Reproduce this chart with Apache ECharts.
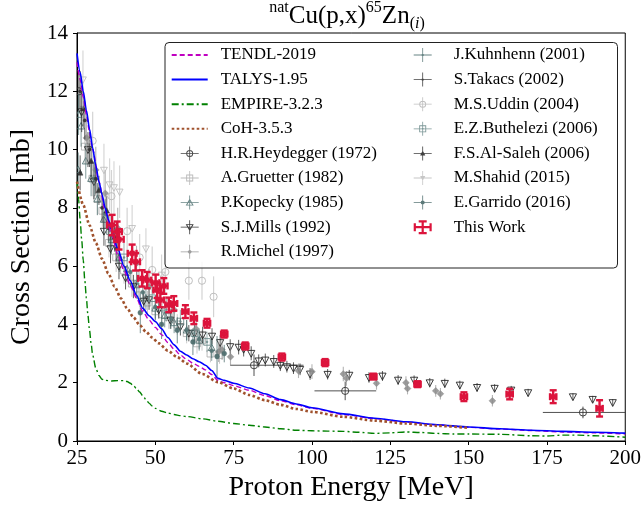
<!DOCTYPE html>
<html><head><meta charset="utf-8">
<script src="https://cdn.jsdelivr.net/npm/echarts@6/dist/echarts.min.js"></script>
<style>html,body{margin:0;padding:0;background:#fff}#c{width:644px;height:510px}</style>
</head><body><div id="c"></div>
<script>
// ---------- model curves ----------
var TALYS_E = [25,26,27,28,29,30,31,32,33,34,35,36,38,40,42,44,46,48,50,52,54,56,58,60,62,64,66,68,70,72,75,80,85,90,95,100,110,120,130,140,150,160,170,180,190,200];
var TALYS_Y = [13.3,12.65,12.0,11.35,10.7,10.05,9.45,8.9,8.45,8.0,7.6,7.25,6.6,6.0,5.5,5.0,4.55,4.3,4.1,3.85,3.55,3.3,3.08,2.95,2.82,2.72,2.6,2.42,2.15,2.08,1.98,1.82,1.62,1.42,1.27,1.14,0.93,0.78,0.66,0.56,0.48,0.42,0.37,0.33,0.3,0.27];
var TENDL_E = [25,26,27,28,29,30,32,34,36,38,40,42,44,46,48,50,52,54,56,58,60,62,64,66,68,70,72,75,80,85,90,95,100,110,120,130,140,150,160,170,180,190,200];
var TENDL_Y = [13.0,12.4,11.8,11.2,10.6,10.0,8.9,7.9,7.1,6.4,5.85,5.35,4.9,4.45,4.15,3.9,3.65,3.38,3.15,2.95,2.8,2.67,2.56,2.44,2.28,2.08,2.0,1.9,1.74,1.56,1.38,1.24,1.12,0.91,0.77,0.65,0.55,0.47,0.41,0.36,0.31,0.28,0.24];
var EMPIRE_E = [25,25.5,26,26.5,27,27.5,28,28.5,29,29.5,30,31,32,33,34,36,38,40,41,42,43,44,45,46,47,48,49,50,52,54,56,58,60,65,70,75,80,85,90,95,100,105,110,115,120,125,130,135,140,145,150,160,170,175,180,185,190,200];
var EMPIRE_Y = [8.9,8.3,7.6,6.9,6.2,5.5,4.9,4.3,3.8,3.35,2.95,2.5,2.25,2.12,2.08,2.06,2.07,2.07,2.04,1.98,1.9,1.8,1.68,1.55,1.42,1.3,1.2,1.12,1.02,0.96,0.91,0.87,0.84,0.76,0.68,0.6,0.54,0.48,0.42,0.37,0.35,0.34,0.33,0.3,0.26,0.28,0.31,0.29,0.26,0.24,0.24,0.23,0.18,0.17,0.2,0.2,0.18,0.13];
var COH_E = [25,27,29,31,33,35,37,39,41,43,45,47,49,51,54,57,60,65,70,75,80,85,90,95,100,110,120,130,140,150];
var COH_Y = [8.9,8.1,7.4,6.8,6.25,5.75,5.3,4.9,4.55,4.25,3.98,3.75,3.55,3.36,3.1,2.88,2.66,2.3,2.02,1.8,1.58,1.4,1.24,1.1,1.0,0.83,0.7,0.6,0.52,0.45];

// ---------- experimental data: [E, sigma, dE_low, dE_high, dSigma] ----------
var HEYDEGGER = [[25.6,12.0,0,0,0.6],[81.5,2.6,7.6,15.8,0.37],[110.6,1.72,9.8,9.9,0.32],[186.5,0.98,12.8,13.5,0.2]];
var GRUETTER = [[27.5,10.1,0,0,0.6],[29.9,9.0,0,0,0.6],[31.5,8.3,0,0,0.55],[33.1,7.9,0,0,0.55],[35.2,6.8,0,0,0.5],[37.5,6.3,0,0,0.5],[40,5.85,0,0,0.45],[42.5,5.4,0,0,0.45],[45,5.0,0,0,0.4],[47.5,4.75,0,0,0.4],[50,4.45,0,0,0.4],[52.2,4.35,0,0,0.4],[54.3,4.25,0,0,0.4],[57,4.0,0,0,0.35],[60,3.7,0,0,0.35],[63.3,3.35,0,0,0.35],[64.9,3.45,0,0,0.35],[67.6,3.0,0,0,0.3],[70.5,2.95,0,0,0.3]];
var KOPECKY = [[25.5,11.2,0,0,0.7],[26.3,10.8,0,0,0.7],[25.4,9.3,0,0,0.6],[27.8,9.6,0,0,0.6],[29.5,9.0,0,0,0.6],[31.5,8.3,0,0,0.55],[33.5,7.6,0,0,0.5],[36,6.9,0,0,0.5],[38.5,6.3,0,0,0.5],[41,5.9,0,0,0.45],[44,5.35,0,0,0.45],[47,4.9,0,0,0.4],[50,4.55,0,0,0.4],[53,4.3,0,0,0.4],[56,4.05,0,0,0.35],[60,3.8,0,0,0.35],[64,3.45,0,0,0.35],[68,3.2,0,0,0.35]];
var MILLS = [[26.5,11.3,0,0,0.7],[28.5,10.0,0,0,0.6],[30.4,8.9,0,0,0.6],[33.6,7.2,0,0,0.5],[35.7,6.6,0,0,0.5],[38.4,6.0,0,0,0.45],[40.5,5.6,0,0,0.4],[43,5.3,0,0,0.4],[46.3,4.8,0,0,0.35],[48,4.85,0,0,0.35],[51.1,4.5,0,0,0.3],[54.8,4.15,0,0,0.3],[58,3.92,0,0,0.3],[60.7,3.7,0,0,0.28],[62.5,3.69,0,0,0.28],[65.1,3.64,0,0,0.28],[68.1,3.6,0,0,0.27],[70.7,3.38,0,0,0.26],[73.9,3.24,0,0,0.25],[76.6,3.22,0,0,0.25],[78.2,3.15,0,0,0.25],[80.6,3.01,0,0,0.24],[83,2.75,0,0,0.22],[85.1,2.78,0,0,0.22],[87.8,2.73,0,0,0.22],[89.9,2.6,0,0,0.2],[92,2.55,0,0,0.2],[94.1,2.5,0,0,0.2],[96.2,2.46,0,0,0.2],[99.4,2.3,0,0,0.2],[105,2.29,0,0,0.18],[111.9,2.26,0,0,0.18],[118.2,2.18,0,0,0.18],[122.5,2.23,0,0,0.17],[127.5,2.09,0,0,0.17],[132.6,2.09,0,0,0.16],[137.6,2.0,0,0,0.16],[142.4,1.98,0,0,0.16],[147.2,1.92,0,0,0.15],[152.7,1.84,0,0,0.15],[158.3,1.81,0,0,0.14],[163.6,1.75,0,0,0.14],[169,1.66,0,0,0.13],[183.3,1.52,0,0,0.12],[189.6,1.43,0,0,0.12],[196,1.32,0,0,0.12]];
var MICHEL = [[28,10.4,0,0,0.9],[31,9.3,0,0,0.8],[34,8.5,0,0,0.8],[38,7.3,0,0,0.7],[44,6.1,0,0,0.6],[48,5.3,0,0,0.6],[56,4.5,0,0,0.5],[63,3.85,0,0,0.45],[70.2,3.06,0,0,0.35],[71.3,3.13,0,0,0.35],[74,2.89,0,0,0.3],[95.7,2.41,0,0,0.25],[100,2.38,0,0,0.25],[110,2.3,0,0,0.25],[111,2.15,0,0,0.25],[120.6,1.98,0,0,0.22],[130,2.0,0,0,0.22],[130.5,1.8,0,0,0.2],[139.5,1.72,0,0,0.2],[141,1.62,0,0,0.2],[157.6,1.38,0,0,0.2]];
var KUHNHENN = [[30.5,9.0,0,0,0.6],[34,7.8,0,0,0.5],[38,6.6,0,0,0.5],[42,5.8,0,0,0.45],[46,5.1,0,0,0.4],[50,4.6,0,0,0.4],[55,4.2,0,0,0.35],[60,3.8,0,0,0.35],[64,3.5,0,0,0.35],[68,3.1,0,0,0.35]];
var TAKACS = [[26,12.0,0,0,0.7],[27.5,11.0,0,0,0.65],[29,10.0,0,0,0.6],[31,9.0,0,0,0.55],[33,8.0,0,0,0.5],[35,7.3,0,0,0.45],[37.5,6.6,0,0,0.45]];
var UDDIN = [[30,10.3,0,0,1.0],[36,8.4,0,0,0.9],[41,7.2,0,0,0.8],[45,6.3,0,0,0.8],[49,5.87,0,0,0.8],[53.2,5.8,0,0,0.75],[60.7,5.5,0,0,0.65],[64.9,5.5,0,0,0.65],[68.6,4.95,0,0,0.7]];
var BUTHELEZI = [[35.5,7.2,0,0,0.6],[40,6.3,0,0,0.5],[44.5,5.4,0,0,0.5],[49,4.9,0,0,0.45],[53.5,4.5,0,0,0.4],[58,4.1,0,0,0.4],[62.5,3.7,0,0,0.4],[66.5,3.4,0,0,0.35]];
var ALSALEH = [[26,9.2,0,0,0.6],[27,11.4,0,0,0.6],[29.5,9.6,0,0,0.6],[32,8.6,0,0,0.5],[34.5,7.9,0,0,0.5],[37,7.0,0,0,0.5]];
var SHAHID = [[26.9,12.4,0,0,1.0],[33.6,9.3,0,0,0.9],[35.4,8.8,0,0,0.9],[36.8,8.7,0,0,0.9],[38.6,8.55,0,0,0.9],[42.6,7.3,0,0,0.8],[47,6.6,0,0,0.7],[52,5.7,0,0,0.7]];
var GARRIDO = [[45.2,4.4,0,0,0.7],[52,4.0,0,0,0.5],[57,3.8,0,0,0.45],[62,3.4,0,0,0.45],[69.7,2.9,0,0,0.7],[72,3.0,0,0,0.3]];
var THIS_WORK = [[36.2,7.41,1.6,1.6,0.35],[37.8,7.18,1.5,1.5,0.35],[38.4,6.92,1.5,1.5,0.35],[42.6,6.44,1.4,1.4,0.3],[43.7,6.15,1.4,1.4,0.3],[45.8,5.58,1.3,1.3,0.28],[47.4,5.52,1.3,1.3,0.28],[50.1,5.43,1.2,1.2,0.28],[50.6,5.18,1.2,1.2,0.27],[52.7,5.32,1.2,1.2,0.27],[51.6,4.84,1.2,1.2,0.25],[54.3,4.67,1.1,1.1,0.25],[55.9,4.72,1.1,1.1,0.25],[59.6,4.44,1.0,1.0,0.22],[62.3,4.21,1.0,1.0,0.2],[66.5,4.04,1.0,1.0,0.15],[72,3.67,1.0,1.0,0.12],[78.7,3.26,1.0,1.0,0.12],[90.4,2.88,1.0,1.0,0.12],[104.2,2.69,1.0,1.0,0.12],[119.6,2.21,1.0,1.0,0.1],[133.7,1.95,1.0,1.0,0.1],[148.5,1.52,1.0,1.0,0.15],[163.1,1.61,1.0,1.0,0.18],[177,1.52,1.0,1.0,0.22],[191.8,1.12,1.0,1.0,0.28]];

var X_TICKS = [25,50,75,100,125,150,175,200];
var Y_TICKS = [0,2,4,6,8,10,12,14];

var FONT = 'Liberation Serif';
function zip(a,b){ return a.map(function(v,i){return [v,b[i]];}); }

// legend icon paths (18 x 14 box)
var CROSS = 'M0 6.6H18V7.4H0Z M8.6 0H9.4V14H8.6Z ';
var ICONS = {
  o: CROSS + 'M5.5 7A3.5 3.5 0 1 1 12.5 7A3.5 3.5 0 1 1 5.5 7Z M6.5 7A2.5 2.5 0 1 0 11.5 7A2.5 2.5 0 1 0 6.5 7Z',
  s: CROSS + 'M5.5 3.5H12.5V10.5H5.5Z M6.4 4.4V9.6H11.6V4.4Z',
  '^': CROSS + 'M9 3L13 10H5Z M9 4.9L6.6 9.2H11.4Z',
  v: CROSS + 'M5 4H13L9 11Z M6.6 4.8L9 9.1L11.4 4.8Z',
  d: CROSS + 'M9 4.6L11.4 7L9 9.4L6.6 7Z',
  dot: CROSS + 'M7 7A2 2 0 1 1 11 7A2 2 0 1 1 7 7Z',
  small: CROSS + 'M7.8 7A1.2 1.2 0 1 1 10.2 7A1.2 1.2 0 1 1 7.8 7Z',
  sd: CROSS + 'M5.5 3.5H12.5V10.5H5.5Z M6.4 4.4V9.6H11.6V4.4Z M8 7A1 1 0 1 1 10 7A1 1 0 1 1 8 7Z',
  tf: CROSS + 'M9 4.2L11.6 9H6.4Z',
  vf: CROSS + 'M6.4 5H11.6L9 9.8Z',
  tw: 'M1 5.9H17V8.1H1Z M0 3H2.2V11H0Z M15.8 3H18V11H15.8Z M7.9 0H10.1V14H7.9Z M5 0H13V2.2H5Z M5 11.8H13V14H5Z'
};

function errRender(st){
  return function(params, api){
    var E = api.value(0), s = api.value(1), xl = api.value(2), xh = api.value(3), ye = api.value(4);
    var c = api.coord([E, s]);
    var ch = [];
    var ls = {stroke: st.color, lineWidth: st.elw, opacity: st.eop};
    if (ye > 0) {
      var t = api.coord([E, s + ye]), b = api.coord([E, s - ye]);
      ch.push({type:'line', shape:{x1:c[0], y1:t[1], x2:c[0], y2:b[1]}, style: ls});
      if (st.cap) {
        ch.push({type:'line', shape:{x1:c[0]-st.cap, y1:t[1], x2:c[0]+st.cap, y2:t[1]}, style: ls});
        ch.push({type:'line', shape:{x1:c[0]-st.cap, y1:b[1], x2:c[0]+st.cap, y2:b[1]}, style: ls});
      }
    }
    if (xl > 0 || xh > 0) {
      var l = api.coord([E - xl, s]), r = api.coord([E + xh, s]);
      ch.push({type:'line', shape:{x1:l[0], y1:c[1], x2:r[0], y2:c[1]}, style: ls});
      if (st.cap) {
        ch.push({type:'line', shape:{x1:l[0], y1:c[1]-st.cap, x2:l[0], y2:c[1]+st.cap}, style: ls});
        ch.push({type:'line', shape:{x1:r[0], y1:c[1]-st.cap, x2:r[0], y2:c[1]+st.cap}, style: ls});
      }
    }
    var x = c[0], y = c[1], m = st.ms;
    var open = {fill: 'none', stroke: st.color, lineWidth: 1, opacity: st.mop};
    var full = {fill: st.color, stroke: st.color, lineWidth: 0.5, opacity: st.mop};
    switch (st.m) {
      case 'o': ch.push({type:'circle', shape:{cx:x, cy:y, r:m}, style: open}); break;
      case 's': ch.push({type:'rect', shape:{x:x-m, y:y-m, width:2*m, height:2*m}, style: open}); break;
      case 'sd': ch.push({type:'rect', shape:{x:x-m, y:y-m, width:2*m, height:2*m}, style: open});
                 ch.push({type:'circle', shape:{cx:x, cy:y, r:1}, style: full}); break;
      case '^': ch.push({type:'polygon', shape:{points:[[x,y-m*1.1],[x+m,y+m*0.8],[x-m,y+m*0.8]]}, style: open}); break;
      case 'v': ch.push({type:'polygon', shape:{points:[[x-m,y-m*0.8],[x+m,y-m*0.8],[x,y+m*1.1]]}, style: open}); break;
      case 'tf': ch.push({type:'polygon', shape:{points:[[x,y-m*1.1],[x+m,y+m*0.8],[x-m,y+m*0.8]]}, style: full}); break;
      case 'vf': ch.push({type:'polygon', shape:{points:[[x-m,y-m*0.8],[x+m,y-m*0.8],[x,y+m*1.1]]}, style: full}); break;
      case 'd': ch.push({type:'polygon', shape:{points:[[x,y-m],[x+m,y],[x,y+m],[x-m,y]]}, style: full}); break;
      case 'dot': ch.push({type:'circle', shape:{cx:x, cy:y, r:m}, style: full}); break;
      case 'S': ch.push({type:'rect', shape:{x:x-m, y:y-m, width:2*m, height:2*m}, style: full}); break;
    }
    return {type:'group', children: ch};
  };
}

var EXP = [
  {name:'H.R.Heydegger (1972)', data:HEYDEGGER, color:'#333333', m:'o', ms:3.6, elw:1, eop:0.85, mop:0.9, icon:'o'},
  {name:'A.Gruetter (1982)', data:GRUETTER, color:'#a9a9a9', m:'s', ms:3.4, elw:1, eop:0.6, mop:0.8, icon:'s'},
  {name:'P.Kopecky (1985)', data:KOPECKY, color:'#4f7171', m:'^', ms:3.4, elw:1, eop:0.7, mop:0.85, icon:'^'},
  {name:'S.J.Mills (1992)', data:MILLS, color:'#262626', m:'v', ms:3.6, elw:1, eop:0.75, mop:0.9, icon:'v'},
  {name:'R.Michel (1997)', data:MICHEL, color:'#8c8c8c', m:'d', ms:3.4, elw:1.1, eop:0.65, mop:0.85, icon:'d'},
  {name:'J.Kuhnhenn (2001)', data:KUHNHENN, color:'#557676', m:'dot', ms:2, elw:1, eop:0.7, mop:0.9, icon:'small'},
  {name:'S.Takacs (2002)', data:TAKACS, color:'#303030', m:'dot', ms:1.6, elw:1, eop:0.75, mop:0.9, icon:'small'},
  {name:'M.S.Uddin (2004)', data:UDDIN, color:'#b5b5b5', m:'o', ms:3.6, elw:1.2, eop:0.6, mop:0.85, icon:'o'},
  {name:'E.Z.Buthelezi (2006)', data:BUTHELEZI, color:'#668686', m:'sd', ms:3.3, elw:1, eop:0.65, mop:0.85, icon:'sd'},
  {name:'F.S.Al-Saleh (2006)', data:ALSALEH, color:'#2c2c2c', m:'tf', ms:2.8, elw:1, eop:0.75, mop:0.9, icon:'tf'},
  {name:'M.Shahid (2015)', data:SHAHID, color:'#bcbcbc', m:'v', ms:3.4, elw:1.2, eop:0.6, mop:0.85, icon:'vf'},
  {name:'E.Garrido (2016)', data:GARRIDO, color:'#4a6a6a', m:'dot', ms:2.4, elw:1, eop:0.75, mop:0.9, icon:'dot'}
];
var TW = {name:'This Work', data:THIS_WORK, color:'#dc143c', m:'S', ms:2.4, elw:2.4, eop:1, mop:1, cap:3.5, icon:'tw'};

var series = [];
EXP.forEach(function(d){
  series.push({type:'custom', name:d.name, data:d.data, renderItem:errRender(d), clip:true, z:2,
    itemStyle:{color:d.color}, encode:{x:0, y:1}});
});
var CURVES = [
  {name:'TENDL-2019', data:zip(TENDL_E,TENDL_Y), color:'#c000c0', width:1.4, type:[5,3]},
  {name:'TALYS-1.95', data:zip(TALYS_E,TALYS_Y), color:'#0000ff', width:1.6, type:'solid'},
  {name:'EMPIRE-3.2.3', data:zip(EMPIRE_E,EMPIRE_Y), color:'#008000', width:1.4, type:[7,3,2,3]},
  {name:'CoH-3.5.3', data:zip(COH_E,COH_Y), color:'#a0522d', width:2.6, type:[2.6,2.4]}
];
CURVES.forEach(function(c){
  series.push({type:'line', name:c.name, data:c.data, symbol:'none', showSymbol:false, z:3,
    smooth:0.25, smoothMonotone:'x',
    itemStyle:{color:c.color}, lineStyle:{color:c.color, width:c.width, type:c.type}});
});
series.push({type:'custom', name:TW.name, data:TW.data, renderItem:errRender(TW), clip:true, z:5,
  itemStyle:{color:TW.color}, encode:{x:0, y:1}});

function legendItem(name){
  var d = EXP.concat([TW]).filter(function(e){return e.name===name;})[0];
  if (!d) return {name:name, itemStyle:{color:'rgba(0,0,0,0)', opacity:0, borderWidth:0}};
  return {name:name, icon:'path://' + ICONS[d.icon], itemStyle:{color:d.color, borderWidth:0, opacity:d.mop}};
}
var LEFT_NAMES = ['TENDL-2019','TALYS-1.95','EMPIRE-3.2.3','CoH-3.5.3','H.R.Heydegger (1972)','A.Gruetter (1982)','P.Kopecky (1985)','S.J.Mills (1992)','R.Michel (1997)'];
var RIGHT_NAMES = ['J.Kuhnhenn (2001)','S.Takacs (2002)','M.S.Uddin (2004)','E.Z.Buthelezi (2006)','F.S.Al-Saleh (2006)','M.Shahid (2015)','E.Garrido (2016)','This Work'];
var legendCommon = {orient:'vertical', itemWidth:36, itemHeight:14, itemGap:4.6, selectedMode:false, z:20, padding:0,
  textStyle:{fontFamily:FONT, fontSize:17, color:'#000', lineHeight:20, padding:[0,0,0,8]}};

var chart = echarts.init(document.getElementById('c'), null, {renderer:'canvas'});
chart.setOption({
  animation:false,
  backgroundColor:'#fff',
  title:{
    text:'{sup|nat}{m|Cu(p,x)}{sup|65}{m|Zn}{sub|(}{subi|i}{sub|)}',
    left:347, textAlign:'center', top:0, padding:0,
    textStyle:{fontWeight:'normal', rich:{
      m:{fontFamily:FONT, fontSize:25, fontWeight:'normal', color:'#000', lineHeight:32},
      sup:{fontFamily:FONT, fontSize:16, fontWeight:'normal', color:'#000', lineHeight:16, verticalAlign:'top'},
      sub:{fontFamily:FONT, fontSize:16, fontWeight:'normal', color:'#000', lineHeight:16, verticalAlign:'bottom'},
      subi:{fontFamily:FONT, fontSize:16, fontWeight:'normal', color:'#000', lineHeight:16, verticalAlign:'bottom', fontStyle:'italic'}
    }}
  },
  grid:{left:77, right:17, top:33, bottom:69, show:true, borderColor:'#000', borderWidth:1, backgroundColor:'transparent'},
  xAxis:{type:'value', min:X_TICKS[0], max:X_TICKS[X_TICKS.length-1], interval:25,
    name:'Proton Energy [MeV]', nameLocation:'middle', nameGap:33,
    nameTextStyle:{fontFamily:FONT, fontSize:28, color:'#000'},
    axisLine:{lineStyle:{color:'#000', width:1}}, axisTick:{inside:false, length:4, lineStyle:{color:'#000'}},
    axisLabel:{fontFamily:FONT, fontSize:21, color:'#000', margin:7}, splitLine:{show:false}},
  yAxis:{type:'value', min:Y_TICKS[0], max:Y_TICKS[Y_TICKS.length-1], interval:2,
    name:'Cross Section [mb]', nameLocation:'middle', nameGap:39,
    nameTextStyle:{fontFamily:FONT, fontSize:28, color:'#000'},
    axisLine:{show:true, lineStyle:{color:'#000', width:1}}, axisTick:{show:true, inside:false, length:4, lineStyle:{color:'#000'}},
    axisLabel:{fontFamily:FONT, fontSize:21, color:'#000', margin:9}, splitLine:{show:false}},
  legend:[
    Object.assign({left:170.7, top:45, data:LEFT_NAMES.map(legendItem)}, legendCommon),
    Object.assign({left:413.7, top:45, data:RIGHT_NAMES.map(legendItem)}, legendCommon)
  ],
  graphic:[{type:'rect', z:15, shape:{x:165, y:42.5, width:452.5, height:225.5, r:4},
    style:{fill:'rgba(255,255,255,0.85)', stroke:'#222', lineWidth:1}}],
  series:series
});
</script></body></html>
